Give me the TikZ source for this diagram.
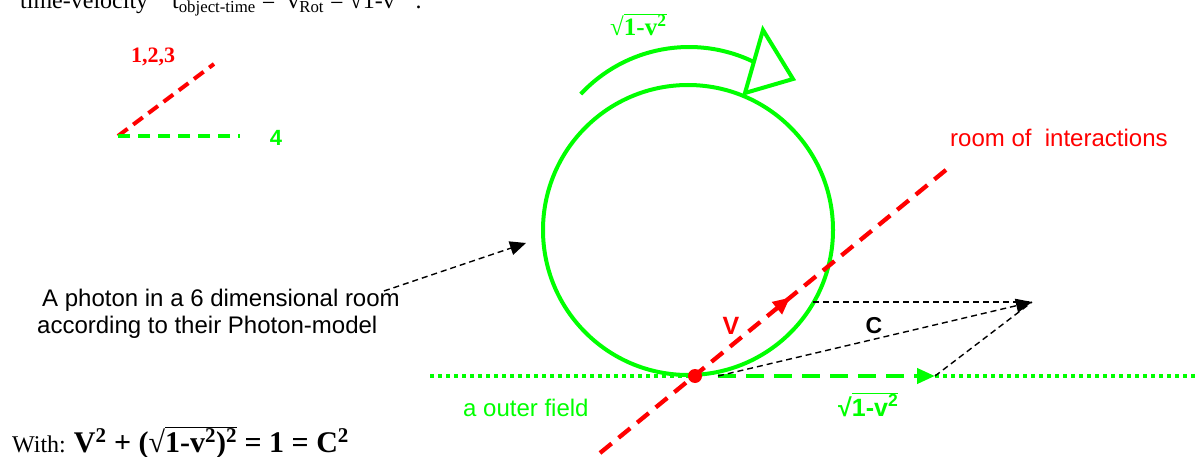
\documentclass[tikz,border=0pt]{standalone}
\usepackage{fontspec}
\setmainfont{Liberation Serif}
\setsansfont{Liberation Sans}
\usetikzlibrary{arrows.meta,decorations.markings}
\newcommand{\rootbar}[1]{\(\overline{\mbox{#1}}\)}

\begin{document}
\begin{tikzpicture}[x=1pt,y=-1pt, every node/.style={inner sep=0pt},
  thickgreen/.style={draw=phGreen, line width=4pt},
  hint/.style={dash pattern=on 6pt off 4pt, line width=1.4pt},
  hinttip/.style={hint, -{Triangle[length=16pt,width=14pt]}}]
  \definecolor{phGreen}{HTML}{00FF00}
  \definecolor{phRed}{HTML}{FF0000}
  \useasboundingbox (0,0) rectangle (1197,457);
  % header line, cut by the page edge
  \node[anchor=base west, font=\fontsize{24}{28}\selectfont] (head) at (20,9)
    {time-velocity\quad t\textsubscript{object-time} = \ v\textsubscript{Rot} = √1-v\textsuperscript{2}\ \ .};
  % legend of the dimensions
  \coordinate (lg0) at (118,136);
  \coordinate (lg1) at (214,64);
  \coordinate (lg2) at (240,136);
  \draw[phRed, line width=4pt, dash pattern=on 12pt off 7pt] (lg0) -- (lg1);
  \draw[phGreen, line width=4pt, dash pattern=on 12pt off 8pt] (lg0) -- (lg2);
  \node[phRed, font=\fontsize{22}{24}\selectfont\bfseries] (dims) at (153,57) {1,2,3};
  \node[phGreen, font=\fontsize{22}{24}\selectfont\sffamily\bfseries] (time) at (276,138) {4};
  % the photon and its rotation
  \coordinate (ctr) at (688,230);
  \draw[thickgreen] (ctr) circle (145);
  \coordinate (spin) at (689,195);
  \draw[thickgreen] (spin) ++(-137:148) arc (-137:-64:148);
  \draw[thickgreen, fill=white, line join=miter] (745,93) -- (763,30) -- (793,79) -- cycle;
  \node[phGreen, anchor=base west, font=\fontsize{25}{28}\selectfont\bfseries] (rate) at (610,36)
    {√\rootbar{1-v\textsuperscript{2}}};
  % outer field
  \coordinate (fl) at (430,376);
  \coordinate (fr) at (1197,376);
  \coordinate (fs) at (718,376);
  \coordinate (ft) at (935,376);
  \draw[phGreen, line width=4pt, dash pattern=on 4pt off 4pt] (fl) -- (695,376);
  \draw[phGreen, line width=4pt, dash pattern=on 4pt off 4pt] (ft) -- (fr);
  \draw[phGreen, line width=4pt, dash pattern=on 18pt off 10pt, -{Triangle[length=18pt,width=15pt]}] (fs) -- (ft);
  % room of interactions
  \coordinate (rl) at (600,453);
  \coordinate (ru) at (952,165);
  \draw[phRed, line width=4.3pt, dash pattern=on 15pt off 9pt, postaction={decorate},
    decoration={markings, mark=at position 0.54 with {\arrow{Triangle[length=17pt,width=15pt]}}}] (rl) -- (ru);
  \node[circle, fill=phRed, minimum size=14pt] (hit) at (695,376) {};
  % vector sum
  \coordinate (ctip) at (1032,302);
  \coordinate (vtail) at (813,302);
  \draw[hint] (vtail) -- (ctip);
  \draw[hinttip] (fs) -- (ctip);
  \draw[hint] (ft) -- (ctip);
  \node[phRed, font=\fontsize{25}{26}\selectfont\sffamily\bfseries] (vel) at (731,326) {V};
  \node[font=\fontsize{23}{24}\selectfont\sffamily\bfseries] (res) at (874,326) {C};
  % labels
  \node[phRed, anchor=base west, font=\fontsize{24}{28}\selectfont\sffamily] (room) at (950,147) {room of\ \ interactions};
  \node[phGreen, anchor=base west, font=\fontsize{24}{28}\selectfont\sffamily] (field) at (463,416) {a outer field};
  \node[phGreen, anchor=base west, font=\fontsize{25}{28}\selectfont\sffamily\bfseries] (shift) at (838,416)
    {√\rootbar{1-v\textsuperscript{2}}};
  \node[anchor=north west, align=left, font=\fontsize{24}{27}\selectfont\sffamily] (photon) at (37,289)
    {\hspace*{5pt}A photon in a 6 dimensional room\\according to their Photon-model};
  \coordinate (pin) at (526,243);
  \draw[hinttip] ([shift={(-16,2)}]photon.north east) -- (pin);
  \node[anchor=base west, font=\fontsize{24}{28}\selectfont] (law) at (12,452)
    {With: {\fontsize{30}{32}\selectfont\bfseries V\textsuperscript{2} + (√\rootbar{1-v\textsuperscript{2})\textsuperscript{2}} = 1 = C\textsuperscript{2}}};
\end{tikzpicture}
\end{document}
